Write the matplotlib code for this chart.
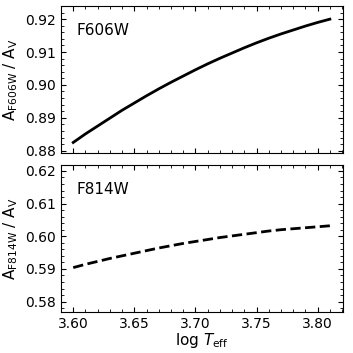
#!/usr/bin/env python3

import matplotlib
matplotlib.use('Agg')
import matplotlib.pyplot as plt
from matplotlib.ticker import MultipleLocator
import numpy as np

# ======================================================================
# Data.
# ======================================================================

logteff = [3.60, 3.61, 3.62, 3.63, 3.64, 3.65, 3.66, 3.67, 3.68, 3.69, 3.70,
           3.71, 3.72, 3.73, 3.74, 3.75, 3.76, 3.77, 3.78, 3.79, 3.80, 3.81]
a_f606w = [0.8825, 0.8851, 0.8875, 0.8899, 0.8923, 0.8945, 0.8967, 0.8988,
           0.9008, 0.9027, 0.9046, 0.9064, 0.9081, 0.9097, 0.9113, 0.9128,
           0.9142, 0.9155, 0.9167, 0.9179, 0.9190, 0.9200]
a_f814w = [0.5904, 0.5914, 0.5923, 0.5932, 0.5940, 0.5948, 0.5956, 0.5964,
           0.5971, 0.5978, 0.5984, 0.5990, 0.5996, 0.6001, 0.6006, 0.6011,
           0.6016, 0.6020, 0.6023, 0.6026, 0.6029, 0.6032]

# ======================================================================
# Plot.
# ======================================================================

fig = plt.figure(figsize=(3.53, 3.53), dpi=100)
ax1 = fig.add_axes([0.1728, 0.5666, 0.798, 0.4164])
ax2 = fig.add_axes([0.1728, 0.117, 0.798, 0.4164])

ax1.plot(logteff, a_f606w, color='k', lw=2, ls='-')
ax2.plot(logteff, a_f814w, color='k', lw=2, ls='--')

ax1.set_ylim(0.8793, 0.924)
ax2.set_ylim(0.5769, 0.6219)
ax1.yaxis.set_major_locator(MultipleLocator(0.01))
ax2.yaxis.set_major_locator(MultipleLocator(0.01))

for ax in (ax1, ax2):
    ax.set_xlim(3.59, 3.8205)
    ax.xaxis.set_major_locator(MultipleLocator(0.05))
    ax.xaxis.set_minor_locator(MultipleLocator(0.01))
    ax.yaxis.set_minor_locator(MultipleLocator(0.002))
    ax.tick_params(which='both', direction='in', top=True, right=True,
                   labelsize=10)
    ax.yaxis.set_major_formatter(plt.FormatStrFormatter('%.2f'))

ax1.tick_params(labelbottom=False)
ax2.xaxis.set_major_formatter(plt.FormatStrFormatter('%.2f'))

ax1.text(0.055, 0.80, 'F606W', transform=ax1.transAxes, fontsize=11,
         va='baseline', ha='left')
ax2.text(0.055, 0.80, 'F814W', transform=ax2.transAxes, fontsize=11,
         va='baseline', ha='left')

ax1.set_ylabel(r'A$_{\mathrm{F606W}}$ / A$_{\mathrm{V}}$', fontsize=11)
ax2.set_ylabel(r'A$_{\mathrm{F814W}}$ / A$_{\mathrm{V}}$', fontsize=11)
ax2.set_xlabel(r'log $T_{\mathrm{eff}}$', fontsize=11, labelpad=0)

fig.savefig('out.png', dpi=100)
plt.close()
